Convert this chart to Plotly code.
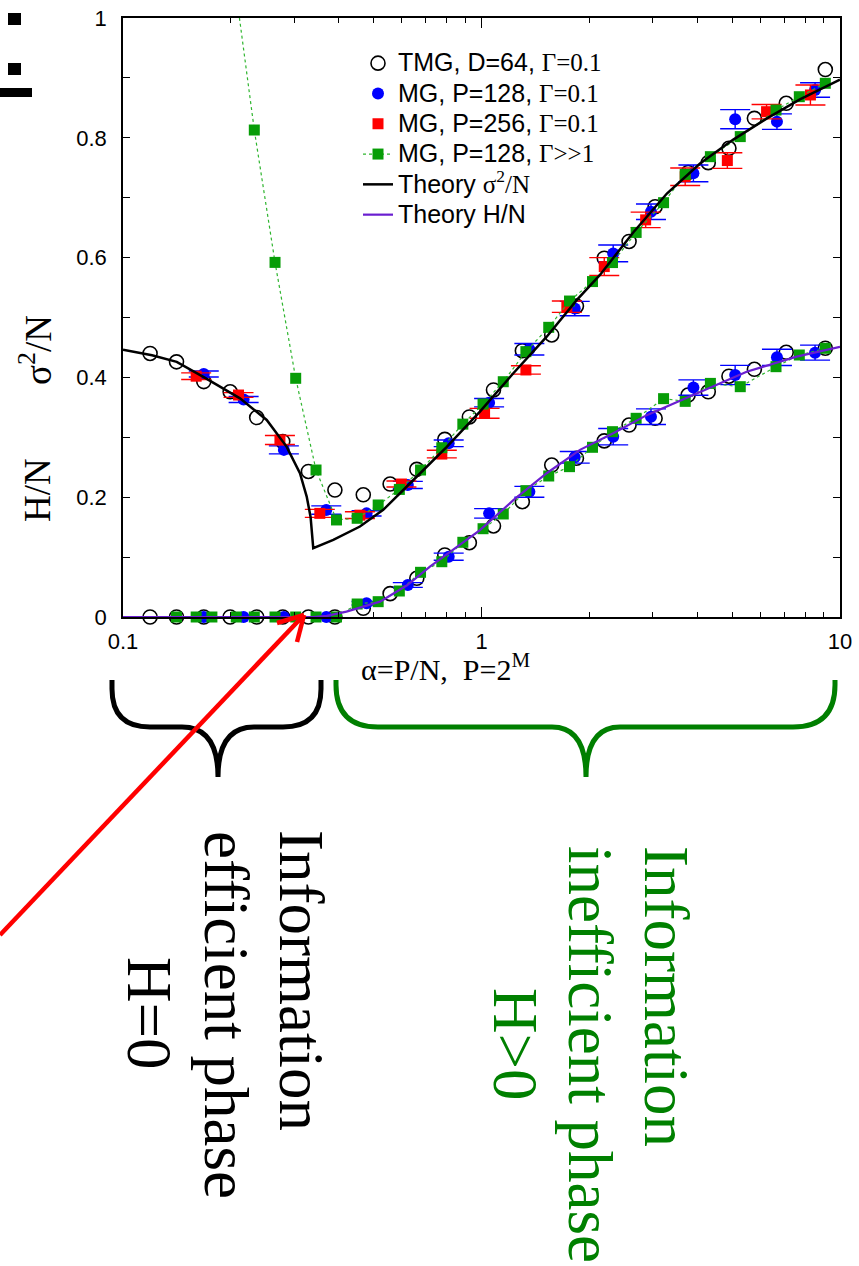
import plotly.graph_objects as go

W, H = 859, 1266

# ---------------- data ----------------
tmg_alpha = [0.119, 0.141, 0.168, 0.199, 0.236, 0.279, 0.329, 0.390, 0.468, 0.556,
             0.66, 0.79, 0.925, 1.08, 1.30, 1.57, 1.84, 2.2, 2.58, 3.05,
             3.77, 4.29, 4.9, 5.77, 7.08, 9.1]
tmg_sigma = [0.440, 0.426, 0.393, 0.376, 0.333, 0.293, 0.243, 0.212, 0.204, 0.222,
             0.2465, 0.2966, 0.334, 0.379, 0.4446, 0.4708, 0.519, 0.599, 0.627, 0.685,
             0.742, 0.7585, 0.7825, 0.8325, 0.8576, 0.914]
tmg_H = [0, 0, 0, 0, 0, 0, 0, 0, 0.0145, 0.039,
         0.0646, 0.1035, 0.124, 0.152, 0.1925, 0.2537, 0.265, 0.294, 0.3205, 0.3317,
         0.3706, 0.376, 0.402, 0.4135, 0.4419, 0.4486]

blue_alpha = [0.168, 0.217, 0.281, 0.369, 0.478, 0.623, 0.81, 1.05, 1.36, 1.82,
              2.33, 2.97, 3.9, 5.1, 6.67, 8.52]
blue_sigma = [0.4057, 0.363, 0.279, 0.1786, 0.173, 0.2204, 0.29, 0.3578, 0.447, 0.515,
              0.607, 0.6766, 0.7407, 0.831, 0.827, 0.8798]
blue_sigma_err = [0.005, 0.005, 0.0067, 0.007, 0.0045, 0.006, 0.0056, 0.007, 0.0097, 0.012,
                  0.014, 0.013, 0.014, 0.016, 0.013, 0.012]
blue_H = [0, 0, 0, 0, 0.023, 0.0534, 0.1007, 0.173, 0.209, 0.2666,
          0.301, 0.3344, 0.383, 0.404, 0.4335, 0.4413]
blue_H_err = [0, 0, 0, 0, 0.003, 0.004, 0.006, 0.008, 0.009, 0.0097,
              0.0136, 0.013, 0.0128, 0.016, 0.0136, 0.0125]

red_alpha = [0.160, 0.21, 0.274, 0.354, 0.458, 0.598, 0.775, 1.02, 1.33, 1.73,
             2.2, 2.87, 3.7, 4.85, 6.24, 8.27]
red_sigma = [0.402, 0.3706, 0.2955, 0.173, 0.170, 0.222, 0.272, 0.340, 0.4124, 0.518,
             0.585, 0.663, 0.735, 0.762, 0.8436, 0.8715]
red_sigma_err = [0.0056, 0.004, 0.0075, 0.0067, 0.0056, 0.005, 0.0064, 0.0083, 0.007, 0.0095,
                 0.015, 0.013, 0.0147, 0.013, 0.012, 0.0167]

green_alpha = [0.141, 0.160, 0.177, 0.207, 0.2324, 0.2655, 0.3032, 0.3455, 0.394, 0.45,
               0.515, 0.59, 0.676, 0.775, 0.887, 1.01, 1.15, 1.33, 1.54, 1.76,
               2.04, 2.32, 2.7, 3.22, 3.7, 4.35, 5.27, 6.63, 7.7, 9.1]
green_sigma = [None, None, None, 1.04, 0.813, 0.592, 0.3985, 0.2454, 0.162, 0.1648,
               0.187, 0.213, 0.2454, 0.2826, 0.322, 0.3556, 0.3928, 0.443, 0.4836, 0.5275,
               0.56, 0.5917, 0.642, 0.6917, 0.739, 0.7685, 0.802, 0.8464, 0.8686, 0.891]
green_H = [0, 0, 0, 0, 0, 0, 0, 0, 0, 0.0217,
           0.0256, 0.0434, 0.0746, 0.0923, 0.1247, 0.1474, 0.172, 0.2109, 0.2354, 0.251,
           0.2833, 0.3094, 0.3317, 0.3645, 0.360, 0.390, 0.3845, 0.4179, 0.4374, 0.4486]

theory_sigma_alpha = [0.1, 0.1205, 0.1412, 0.1675, 0.212, 0.2517, 0.2862, 0.3116, 0.3254, 0.3336,
                      0.3394, 0.386, 0.458, 0.532, 0.6456, 0.80, 0.99, 1.227, 1.52, 1.843,
                      2.14, 2.65, 3.29, 4.07, 5.04, 6.24, 7.73, 10]
theory_sigma = [0.446, 0.437, 0.426, 0.401, 0.365, 0.329, 0.284, 0.240, 0.201, 0.167,
                0.115, 0.1286, 0.151, 0.179, 0.2287, 0.284, 0.343, 0.407, 0.468, 0.529,
                0.571, 0.642, 0.707, 0.757, 0.797, 0.832, 0.864, 0.897]
theory_H_alpha = [0.1, 0.3394, 0.37, 0.42, 0.521, 0.62, 0.718, 0.99, 1.227, 1.52,
                  1.882, 2.33, 2.89, 3.98, 5.49, 7.57, 10]
theory_H = [0, 0, 0.002, 0.009, 0.0256, 0.053, 0.084, 0.145, 0.195, 0.240,
            0.279, 0.3067, 0.337, 0.373, 0.4095, 0.4346, 0.451]

x_tickvals = [0.1, 1, 10]
x_ticktext = ["0.1", "1", "10"]
x_minor = [0.2, 0.3, 0.4, 0.5, 0.6, 0.7, 0.8, 0.9, 2, 3, 4, 5, 6, 7, 8, 9]
y_tickvals = [0, 0.2, 0.4, 0.6, 0.8, 1]
y_ticktext = ["0", "0.2", "0.4", "0.6", "0.8", "1"]

# ---------------- helpers (pixel -> paper) ----------------
def px(x):
    return x / W

def py(y):
    return 1 - y / H

SERIF = "Liberation Serif"
SANS = "Liberation Sans"
BLUE = "#0000ff"
RED = "#ff0000"
GREEN = "#079d07"
GREEN_LINE = "#2fb52f"
PURPLE = "#6a1ed0"
DKGREEN = "#008000"

fig = go.Figure()

def sv(s):
    return '<span style="font-family:%s">%s</span>' % (SERIF, s)

def big(s):
    return '<span style="font-size:25px">%s</span>' % s

# sigma^2 traces (legend entries)
fig.add_trace(go.Scatter(x=tmg_alpha, y=tmg_sigma, mode="markers",
                         name=big("TMG, D=64, " + sv("Γ=0.1")),
                         marker=dict(symbol="circle-open", size=14, color="black",
                                     line=dict(width=1.6, color="black")),
                         cliponaxis=False))
fig.add_trace(go.Scatter(x=blue_alpha, y=blue_sigma, mode="markers",
                         name=big("MG, P=128, " + sv("Γ=0.1")),
                         marker=dict(symbol="circle", size=12, color=BLUE),
                         error_y=dict(type="data", array=blue_sigma_err, color=BLUE,
                                      thickness=1.4, width=15),
                         cliponaxis=False))
fig.add_trace(go.Scatter(x=red_alpha, y=red_sigma, mode="markers",
                         name=big("MG, P=256, " + sv("Γ=0.1")),
                         marker=dict(symbol="square", size=11, color=RED),
                         error_y=dict(type="data", array=red_sigma_err, color=RED,
                                      thickness=1.4, width=15),
                         cliponaxis=False))
fig.add_trace(go.Scatter(x=green_alpha, y=green_sigma, mode="lines+markers",
                         name=big("MG, P=128, " + sv("Γ>>1")),
                         marker=dict(symbol="square", size=11, color=GREEN),
                         line=dict(color=GREEN_LINE, width=1.2, dash="dot"),
                         connectgaps=False, cliponaxis=True))

# H traces (no legend)
fig.add_trace(go.Scatter(x=tmg_alpha, y=tmg_H, mode="markers", showlegend=False,
                         marker=dict(symbol="circle-open", size=14, color="black",
                                     line=dict(width=1.6, color="black")),
                         cliponaxis=False))
bz = [(a, h) for a, h, e in zip(blue_alpha, blue_H, blue_H_err) if e == 0]
bp = [(a, h, e) for a, h, e in zip(blue_alpha, blue_H, blue_H_err) if e != 0]
fig.add_trace(go.Scatter(x=[p[0] for p in bz], y=[p[1] for p in bz], mode="markers",
                         showlegend=False,
                         marker=dict(symbol="circle", size=12, color=BLUE),
                         cliponaxis=False))
fig.add_trace(go.Scatter(x=[p[0] for p in bp], y=[p[1] for p in bp], mode="markers",
                         showlegend=False,
                         marker=dict(symbol="circle", size=12, color=BLUE),
                         error_y=dict(type="data", array=[p[2] for p in bp], color=BLUE,
                                      thickness=1.4, width=15),
                         cliponaxis=False))
fig.add_trace(go.Scatter(x=green_alpha, y=green_H, mode="lines+markers", showlegend=False,
                         marker=dict(symbol="square", size=11, color=GREEN),
                         line=dict(color=GREEN_LINE, width=1.2, dash="dot"),
                         cliponaxis=False))

# theory
fig.add_trace(go.Scatter(x=theory_sigma_alpha, y=theory_sigma, mode="lines",
                         name=big("Theory " + sv("σ<sup>2</sup>/N")),
                         line=dict(color="black", width=2.5)))
fig.add_trace(go.Scatter(x=theory_H_alpha, y=theory_H, mode="lines",
                         name=big("Theory H/N"),
                         line=dict(color=PURPLE, width=2.2)))

axis_common = dict(showline=True, linecolor="black", linewidth=1.6, mirror="ticks",
                   ticks="inside", tickcolor="black", tickwidth=1.2,
                   showgrid=False, zeroline=False, automargin=False,
                   tickfont=dict(family=SANS, size=22, color="black"))

fig.update_xaxes(type="log", range=[-1, 1], domain=[px(123), px(840)],
                 tickvals=x_tickvals, ticktext=x_ticktext, ticklen=10,
                 ticklabelstandoff=4,
                 minor=dict(tickvals=x_minor, ticks="inside", ticklen=5,
                            tickcolor="black", tickwidth=1.2, showgrid=False),
                 **axis_common)
fig.update_yaxes(range=[0, 1], domain=[py(617), py(18)],
                 tickvals=y_tickvals, ticktext=y_ticktext, ticklen=7,
                 ticklabelstandoff=10,
                 minor=dict(dtick=0.1, ticks="inside", ticklen=7,
                            tickcolor="black", tickwidth=1.2, showgrid=False),
                 **axis_common)

annotations = [
    dict(x=px(38), y=py(490), text="H/N", textangle=-90,
         font=dict(family=SERIF, size=37, color="black")),
    dict(x=px(35), y=py(350), text="σ<sup>2</sup>/N", textangle=-90,
         font=dict(family=SERIF, size=37, color="black")),
    dict(x=px(446), y=py(667), text="α=P/N,  P=2<sup>M</sup>",
         font=dict(family=SERIF, size=30, color="black")),
    # black phase text
    dict(x=px(301), y=py(980), text="Information", textangle=90,
         font=dict(family=SERIF, size=63, color="black")),
    dict(x=px(226), y=py(1015), text="efficient phase", textangle=90,
         font=dict(family=SERIF, size=63, color="black")),
    dict(x=px(149), y=py(1013), text="H=0", textangle=90,
         font=dict(family=SERIF, size=63, color="black")),
    # green phase text
    dict(x=px(666), y=py(996), text="Information", textangle=90,
         font=dict(family=SERIF, size=63, color=DKGREEN)),
    dict(x=px(590), y=py(1054), text="inefficient phase", textangle=90,
         font=dict(family=SERIF, size=63, color=DKGREEN)),
    dict(x=px(515), y=py(1044), text="H>0", textangle=90,
         font=dict(family=SERIF, size=63, color=DKGREEN)),
]
for a in annotations:
    a.update(xref="paper", yref="paper", showarrow=False, xanchor="center", yanchor="middle")


def brace(x0, x1, xt, ytop=680, ymid=727, ytip=777, r=40, rt=35):
    return (f"M{px(x0)},{py(ytop)} L{px(x0)},{py(ymid - r)} "
            f"Q{px(x0)},{py(ymid)} {px(x0 + r)},{py(ymid)} "
            f"L{px(xt - rt)},{py(ymid)} Q{px(xt)},{py(ymid)} {px(xt)},{py(ytip)} "
            f"Q{px(xt)},{py(ymid)} {px(xt + rt)},{py(ymid)} "
            f"L{px(x1 - r)},{py(ymid)} Q{px(x1)},{py(ymid)} {px(x1)},{py(ymid - r)} "
            f"L{px(x1)},{py(ytop)}")


shapes = [
    dict(type="path", path=brace(112, 321, 218, r=38, rt=36), line=dict(color="black", width=5)),
    dict(type="path", path=brace(336, 835, 586, r=42, rt=34), line=dict(color="#007f00", width=5)),
    # red arrow
    dict(type="line", x0=px(0), y0=py(935), x1=px(304), y1=py(615),
         line=dict(color=RED, width=4.5)),
    dict(type="line", x0=px(304), y0=py(615), x1=px(277), y1=py(623),
         line=dict(color=RED, width=4.5)),
    dict(type="line", x0=px(304), y0=py(615), x1=px(297), y1=py(642),
         line=dict(color=RED, width=4.5)),
    # cropped marks at top-left corner
    dict(type="rect", x0=px(8), y0=py(13), x1=px(21), y1=py(25),
         fillcolor="black", line=dict(width=0)),
    dict(type="rect", x0=px(8), y0=py(63), x1=px(21), y1=py(75),
         fillcolor="black", line=dict(width=0)),
    dict(type="rect", x0=px(0), y0=py(88), x1=px(32), y1=py(97),
         fillcolor="black", line=dict(width=0)),
]
for s in shapes:
    s.update(xref="paper", yref="paper")

fig.update_layout(
    width=W, height=H,
    margin=dict(l=0, r=0, t=0, b=0, pad=0, autoexpand=False),
    paper_bgcolor="white", plot_bgcolor="white",
    font=dict(family=SANS, color="black"),
    legend=dict(x=px(358), y=py(43), xanchor="left", yanchor="top",
                bgcolor="rgba(0,0,0,0)", borderwidth=0,
                font=dict(family=SANS, size=21, color="black"),
                tracegroupgap=0),
    annotations=annotations,
    shapes=shapes,
)

fig.write_html("out.html")
